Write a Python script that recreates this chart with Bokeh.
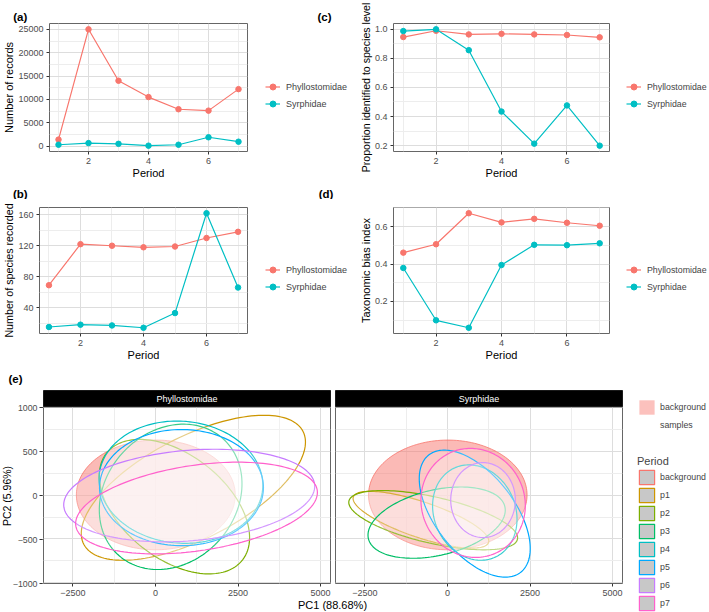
import numpy as np
from bokeh.plotting import figure
from bokeh.layouts import row, column
from bokeh.models import Range1d, FixedTicker, Legend, LegendItem, Label
from bokeh.embed import file_html
from bokeh.resources import INLINE

FONT = "Liberation Sans"

# ---------------- data ----------------
periods = [1, 2, 3, 4, 5, 6, 7]
families = ["Phyllostomidae", "Syrphidae"]
family_colors = ["#F8766D", "#00BFC4"]

records_phy = [1400, 25000, 14000, 10500, 7900, 7600, 12200]
records_syr = [300, 650, 500, 100, 300, 1900, 950]
species_phy = [69, 122, 120, 118, 119, 130, 138]
species_syr = [15, 18, 17, 14, 33, 162, 66]
prop_phy = [0.945, 0.988, 0.963, 0.967, 0.963, 0.959, 0.943]
prop_syr = [0.986, 0.998, 0.855, 0.434, 0.214, 0.476, 0.200]
bias_phy = [0.461, 0.506, 0.672, 0.623, 0.642, 0.621, 0.605]
bias_syr = [0.379, 0.099, 0.059, 0.395, 0.503, 0.501, 0.511]

period_ticks = [2, 4, 6]
period_minor = [1, 3, 5, 7]
records_ticks = [0, 5000, 10000, 15000, 20000, 25000]
records_minor = [2500, 7500, 12500, 17500, 22500]
species_ticks = [40, 80, 120, 160]
species_minor = [20, 60, 100, 140]
prop_ticks = [0.2, 0.4, 0.6, 0.8, 1.0]
prop_labels = ["0.2", "0.4", "0.6", "0.8", "1.0"]
prop_minor = [0.3, 0.5, 0.7, 0.9]
bias_ticks = [0.2, 0.4, 0.6]
bias_labels = ["0.2", "0.4", "0.6"]
bias_minor = [0.1, 0.3, 0.5, 0.7]

# PCA ellipses: centre, half-extent in x and y, correlation (tilt)
groups = ["background", "p1", "p2", "p3", "p4", "p5", "p6", "p7"]
group_colors = ["#F8766D", "#CD9600", "#7CAE00", "#00BE67", "#00BFC4", "#00A9FF", "#C77CFF", "#FF61CC"]

phy_cx = [10, 1148, 575, 460, 770, 788, 1022, 1243]
phy_cy = [4, 86, -130, -18, 150, 88, -3, -146]
phy_sx = [2405, 3394, 2275, 2160, 2480, 2482, 3800, 3660]
phy_sy = [628, 830, 770, 832, 700, 665, 530, 525]
phy_r = [0.0, 0.63, -0.46, 0.18, -0.05, 0.0, 0.2, 0.34]

syr_cx = [10, -803, -432, -328, 828, 826, 1077, 777]
syr_cy = [4, -280, -285, -313, -198, -210, -55, -87]
syr_sx = [2400, 2055, 2556, 2078, 1278, 1680, 978, 1580]
syr_sy = [628, 325, 339, 408, 546, 727, 429, 624]
syr_r = [0.0, -0.75, -0.6, 0.35, -0.14, -0.55, 0.0, -0.05]

fill_types = ["background", "samples"]
pc1_ticks = [-2500, 0, 2500, 5000]
pc1_minor = [-1250, 1250, 3750]
pc2_ticks = [-1000, -500, 0, 500, 1000]
pc2_minor = [-750, -250, 250, 750]
pc1_range = (-3390, 5300)
pc2_range = (-1010, 1005)

# ---------------- styling helpers ----------------
GRID_MAJOR = "#DDDDDD"
GRID_MINOR = "#EDEDED"
BORDER = "#666666"
NAN = [float("nan")]


def style_axis(ax, ticks, minor, labels=None, title=None):
    ax.ticker = FixedTicker(ticks=ticks, minor_ticks=minor)
    if labels is not None:
        ax.major_label_overrides = {t: l for t, l in zip(ticks, labels)}
    ax.axis_line_color = None
    ax.major_tick_line_color = "#333333"
    ax.major_tick_out = 3
    ax.major_tick_in = 0
    ax.minor_tick_line_color = None
    ax.major_label_text_font = FONT
    ax.major_label_text_font_size = "9px"
    ax.major_label_text_color = "#4D4D4D"
    ax.major_label_standoff = 2
    ax.axis_label_text_font = FONT
    ax.axis_label_text_font_size = "11px"
    ax.axis_label_text_font_style = "normal"
    ax.axis_label_text_color = "black"
    ax.axis_label_standoff = 0
    if title is not None:
        ax.axis_label = title


def style_grid(g, ticks, minor):
    g.ticker = FixedTicker(ticks=ticks, minor_ticks=minor)
    g.grid_line_color = GRID_MAJOR
    g.grid_line_width = 1
    g.minor_grid_line_color = GRID_MINOR
    g.minor_grid_line_width = 1


def blank(width, height, **kw):
    f = figure(width=width, height=height, output_backend="svg", toolbar_location=None,
               x_range=Range1d(0, 1), y_range=Range1d(0, 1),
               x_axis_location=None, y_axis_location=None, min_border=0,
               outline_line_color=None, **kw)
    f.grid.visible = False
    return f


def text_label(f, text, x, y, size="11px", bold=False, color="black"):
    f.add_layout(Label(x=x, y=y, x_units="screen", y_units="screen", text=text,
                       text_font=FONT, text_font_style="bold" if bold else "normal",
                       text_font_size=size, text_align="center", text_baseline="middle",
                       text_color=color))


def line_panel(vals_phy, vals_syr, yticks, yminor, ylabels, ylabel, width, height,
               mbl, mbr, mbt, mbb, title_size="11px"):
    lo = min(min(vals_phy), min(vals_syr))
    hi = max(max(vals_phy), max(vals_syr))
    pad = 0.05 * (hi - lo)
    xpad = 0.05 * (max(periods) - min(periods))
    p = figure(width=width, height=height, output_backend="svg", toolbar_location=None,
               x_range=Range1d(min(periods) - xpad, max(periods) + xpad),
               y_range=Range1d(lo - pad, hi + pad),
               min_border_left=mbl, min_border_right=mbr, min_border_top=mbt, min_border_bottom=mbb,
               outline_line_color=BORDER, outline_line_width=1)
    style_axis(p.xaxis[0], period_ticks, period_minor, title="Period")
    style_axis(p.yaxis[0], yticks, yminor, labels=ylabels, title=ylabel)
    p.yaxis[0].axis_label_text_font_size = title_size
    style_grid(p.xgrid[0], period_ticks, period_minor)
    style_grid(p.ygrid[0], yticks, yminor)
    for col, vals in zip(family_colors, [vals_phy, vals_syr]):
        p.line(periods, vals, line_color=col, line_width=1.2)
        p.scatter(periods, vals, size=5.5, fill_color=col, line_color=col)
    return p


def family_legend(width, height, x, y, font="9px"):
    f = blank(width, height)
    items = []
    for name, col in zip(families, family_colors):
        rl = f.line(NAN, NAN, line_color=col, line_width=1.2)
        rc = f.scatter(NAN, NAN, size=5.5, fill_color=col, line_color=col)
        items.append(LegendItem(label=name, renderers=[rl, rc]))
    f.add_layout(Legend(items=items, location=(x, y), orientation="vertical",
                        glyph_width=15, glyph_height=17, label_height=17, spacing=0,
                        padding=0, margin=0, border_line_color=None, background_fill_alpha=0,
                        label_text_font=FONT, label_text_font_size=font, label_standoff=6))
    return f


# ---------------- panels a-d ----------------
tagA = blank(350, 23)
text_label(tagA, "(a)", 19.7, 7, size="11.5px", bold=True)
text_label(tagA, "(c)", 324, 7, size="11.5px", bold=True)
figA = line_panel(records_phy, records_syr, records_ticks, records_minor, None,
                  "Number of records", 248, 164, 43, 1, 0, 36)
legA = family_legend(102, 164, 17, 39)

figC = line_panel(prop_phy, prop_syr, prop_ticks, prop_minor, prop_labels,
                  "Proportion identified to species level", 261, 187, 43, 2, 23, 36,
                  title_size="10.6px")
legC = family_legend(98, 187, 15, 39, font="8.8px")

tagB = blank(350, 12)
text_label(tagB, "(b)", 19.8, 6, size="11.5px", bold=True)
text_label(tagB, "(d)", 325.5, 6, size="11.5px", bold=True)
figB = line_panel(species_phy, species_syr, species_ticks, species_minor, None,
                  "Number of species recorded", 248, 171, 33, 1, 8, 37, title_size="10.7px")
legB = family_legend(102, 171, 17, 38)

figD = line_panel(bias_phy, bias_syr, bias_ticks, bias_minor, bias_labels,
                  "Taxonomic bias index", 261, 183, 43, 2, 20, 37)
legD = family_legend(98, 183, 15, 38, font="8.8px")

# ---------------- panel e ----------------
def ellipse_xy(cx, cy, sx, sy, r, n=160):
    t = np.linspace(0, 2 * np.pi, n)
    x = cx + sx * np.cos(t)
    y = cy + sy * (r * np.cos(t) + np.sqrt(1 - r * r) * np.sin(t))
    return x, y


x_rng = Range1d(*pc1_range)
y_rng = Range1d(*pc2_range)

STRIP_H = 17
E_H = 191
E_BOTTOM = 14


def pca_panel(width, mbl, mbr, cx, cy, sx, sy, rr):
    p = figure(width=width, height=E_H, output_backend="svg", toolbar_location=None,
               x_range=x_rng, y_range=y_rng, y_axis_location=None,
               min_border_left=mbl, min_border_right=mbr, min_border_top=0, min_border_bottom=E_BOTTOM,
               outline_line_color=BORDER, outline_line_width=1)
    style_axis(p.xaxis[0], pc1_ticks, pc1_minor)
    style_grid(p.xgrid[0], pc1_ticks, pc1_minor)
    style_grid(p.ygrid[0], pc2_ticks, pc2_minor)
    for i, g in enumerate(groups):
        ex, ey = ellipse_xy(cx[i], cy[i], sx[i], sy[i], rr[i])
        if g == "background":
            p.patch(ex, ey, fill_color=group_colors[i], fill_alpha=0.5,
                    line_color=group_colors[i], line_alpha=0.8, line_width=1)
        else:
            p.patch(ex, ey, fill_color="white", fill_alpha=0.22,
                    line_color=group_colors[i], line_width=1.2)
    return p


def strip_panel(width, mbl, mbr, text):
    s = figure(width=width, height=STRIP_H, output_backend="svg", toolbar_location=None,
               x_range=Range1d(0, 1), y_range=Range1d(0, 1),
               x_axis_location=None, y_axis_location=None,
               min_border_left=mbl, min_border_right=mbr, min_border_top=0, min_border_bottom=0,
               background_fill_color="black", outline_line_color="#1A1A1A")
    s.grid.visible = False
    text_label(s, text, (width - mbl - mbr) / 2, STRIP_H / 2, size="9px", color="white")
    return s


E1 = pca_panel(290, 1, 2, phy_cx, phy_cy, phy_sx, phy_sy, phy_r)
E2 = pca_panel(294, 3, 4, syr_cx, syr_cy, syr_sx, syr_sy, syr_r)
S1 = strip_panel(290, 1, 2, families[0])
S2 = strip_panel(294, 3, 4, families[1])

# shared y axis for the facets
yfig = figure(width=42, height=STRIP_H + E_H, output_backend="svg", toolbar_location=None,
              x_range=Range1d(0, 1), y_range=y_rng, x_axis_location=None,
              min_border_left=41, min_border_right=0, min_border_top=STRIP_H, min_border_bottom=E_BOTTOM,
              outline_line_color=None)
style_axis(yfig.yaxis[0], pc2_ticks, pc2_minor, title="PC2 (5.96%)")
yfig.yaxis[0].major_label_standoff = 1
yfig.yaxis[0].major_label_text_font_size = "8.8px"
yfig.yaxis[0].axis_label_text_font_size = "10.5px"
yfig.yaxis[0].axis_label_standoff = -3
yfig.yaxis[0].major_tick_in = 1
yfig.grid.visible = False

tagE = blank(709, 20)
text_label(tagE, "(e)", 15, 11.7, size="11.5px", bold=True)

# shared x title
tfig = blank(626, 14)
text_label(tfig, "PC1 (88.68%)", 332, 8)

# legends for panel e
lfig = blank(83, 222)
fill_colors = ["#F8766D", "white"]
fill_alphas = [0.45, 0.0]
fill_items = []
for name, fc, fa in zip(fill_types, fill_colors, fill_alphas):
    r = lfig.quad(left=NAN, right=NAN, top=NAN, bottom=NAN, fill_color=fc, fill_alpha=fa, line_color=None)
    fill_items.append(LegendItem(label=name, renderers=[r]))
period_items = []
for g, c in zip(groups, group_colors):
    r = lfig.quad(left=NAN, right=NAN, top=NAN, bottom=NAN, fill_color="#C8C8C8",
                  line_color=c, line_width=1.2)
    period_items.append(LegendItem(label=g, renderers=[r]))

common = dict(orientation="vertical", glyph_width=19, glyph_height=18, label_height=18, spacing=0,
              padding=0, margin=0, border_line_color=None, background_fill_alpha=0,
              label_text_font=FONT, label_text_font_size="8.8px", label_standoff=4)
leg1 = Legend(items=fill_items, location=(11, 178), **common)
leg2 = Legend(items=period_items, location=(11, 0), title="Period",
              title_text_font=FONT, title_text_font_size="11px", title_text_font_style="normal",
              title_standoff=1, **common)
lfig.add_layout(leg1)
lfig.add_layout(leg2)

row1 = row(column(tagA, row(figA, legA)), figC, legC)
row2 = row(column(tagB, row(figB, legB)), figD, legD)
row3 = column(tagE, row(column(row(yfig, column(S1, E1), column(S2, E2)), tfig), lfig))
layout = column(row1, row2, row3)

open("out.html", "w").write(file_html(layout, INLINE))
